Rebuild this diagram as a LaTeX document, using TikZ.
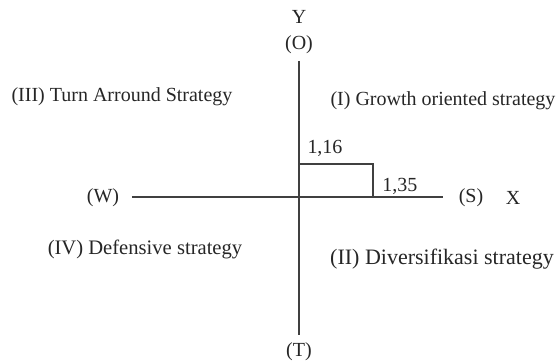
\documentclass[tikz,border=0pt]{standalone}
\usepackage{fontspec}
\setmainfont{Liberation Serif}
\usetikzlibrary{positioning}
\tikzset{every picture/.style={line width=0.75pt}}
\tikzset{
  axisline/.style={draw=black!75,line width=0.8pt},
  lbl/.style={text=black!85,font=\fontsize{10}{12}\selectfont,inner sep=1pt}
}

\begin{document}
\begin{tikzpicture}[x=0.5pt,y=-0.5pt]
    \useasboundingbox (0,0) rectangle (559,363);

    % Axis labels
    \node[lbl] (ylab) at (299,17) {Y};
    \node[lbl] (opp) at (299,45) {(O)};
    \node[lbl] (thr) at (299,352) {(T)};
    \node[lbl] (weak) at (103,198) {(W)};
    \node[lbl] (str) at (471,198) {(S)};
    \node[lbl] (xlab) at (513,198) {X};

    % Axis ends
    \coordinate (top) at (299,61);
    \coordinate (bot) at (299,335);
    \coordinate (left) at (132,197);
    \coordinate (right) at (443,197);
    \coordinate (orig) at (299,197);
    \coordinate (pt) at (373,164);

    % Axes
    \draw[axisline] (top) -- (bot);
    \draw[axisline] (left) -- (right);

    % Position of the values
    \draw[axisline] (orig |- pt) -- (pt) -- (pt |- orig);
    \node[lbl] (vy) at (325,148) {1,16};
    \node[lbl] (vx) at (400,186) {1,35};

    % Quadrants
    \node[lbl] (q3) at (122,97) {(III) Turn Arround Strategy};
    \node[lbl] (q1) at (443,101) {(I) Growth oriented strategy};
    \node[lbl,font=\fontsize{10.3}{12}\selectfont] (q4) at (145,249) {(IV) Defensive strategy};
    \node[lbl,font=\fontsize{11}{13}\selectfont] (q2) at (442,259) {(II) Diversifikasi strategy};
\end{tikzpicture}
\end{document}
